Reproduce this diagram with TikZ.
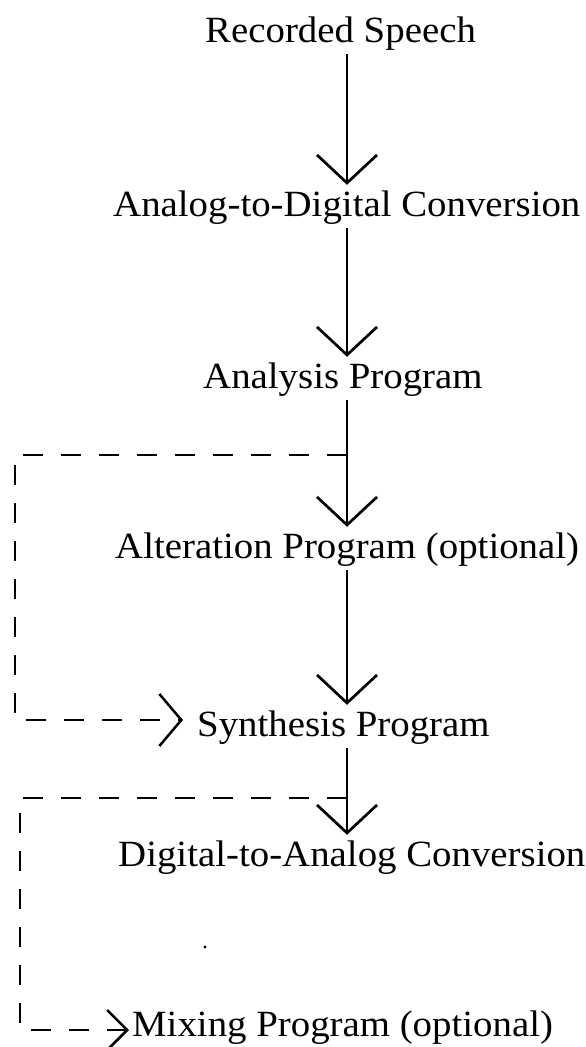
\documentclass[tikz,border=0pt]{standalone}
\usepackage{fontspec}
\setmainfont[FakeStretch=1.05]{Liberation Serif}
\usetikzlibrary{arrows.meta}
\begin{document}
\begin{tikzpicture}[x=1pt,y=-1pt,
  lbl/.style={anchor=base west, inner sep=0pt, font=\fontsize{37}{42}\selectfont, text height=25pt, text depth=8pt},
  flow/.style={line width=2.7pt, shorten <=4pt, shorten >=6pt, -{Straight Barb[length=28pt,width=60pt,line width=2.7pt]}},
  dflow/.style={line width=2.5pt, dash pattern=on 20pt off 18pt, -{Straight Barb[length=22pt,width=52pt,line width=2.5pt]}},
  dflowsmall/.style={line width=2.5pt, dash pattern=on 20pt off 18pt, -{Straight Barb[length=20pt,width=40pt,line width=2.5pt]}}]
\useasboundingbox (0,0) rectangle (586,1047);
\fill[white] (0,0) rectangle (586,1047);
\coordinate (axis) at (347,0);
\node[lbl] (rec) at (205,42) {Recorded Speech};
\node[lbl] (adc) at (113,216) {Analog-to-Digital Conversion};
\node[lbl] (ana) at (203,388) {Analysis Program};
\node[lbl] (alt) at (115,558) {Alteration Program (optional)};
\node[lbl] (syn) at (197,736) {Synthesis Program};
\node[lbl] (dac) at (118,866) {Digital-to-Analog Conversion};
\node[lbl] (mix) at (132,1036) {Mixing Program (optional)};
\draw[flow] (rec.south -| axis) -- (adc.north -| axis);
\draw[flow] (adc.south -| axis) -- (ana.north -| axis);
\draw[flow] (ana.south -| axis) -- (alt.north -| axis);
\draw[flow] (alt.south -| axis) -- (syn.north -| axis);
\draw[flow] (syn.south -| axis) -- (dac.north -| axis);
\coordinate (j1) at (347,455);
\coordinate (j2) at (347,798);
\draw[dflow] (j1) -- (15,455) -- (15,720) -- ([xshift=-14pt,yshift=16pt]syn.base west);
\draw[dflowsmall] (j2) -- (20,798) -- (20,1030) -- ([xshift=-3pt,yshift=6pt]mix.base west);
\fill (205,947) circle (1.6pt);
\end{tikzpicture}
\end{document}
